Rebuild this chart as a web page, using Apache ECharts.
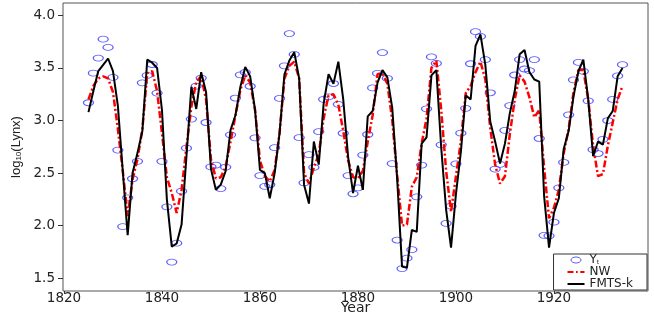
<!DOCTYPE html>
<html><head><meta charset="utf-8">
<script src="https://cdn.jsdelivr.net/npm/echarts@6/dist/echarts.min.js"></script>
<style>html,body{margin:0;padding:0;background:#fff}#c{width:654px;height:316px}</style>
</head><body><div id="c"></div>
<script>
const startYear = 1825, endYear = 1934;
const years = [];
for (let y = startYear; y <= endYear; y++) years.push(y);

const yt = [3.169,3.450,3.594,3.774,3.695,3.411,2.719,1.991,2.265,2.446,
2.612,3.359,3.429,3.533,3.261,2.612,2.179,1.653,1.833,2.328,
2.737,3.014,3.328,3.404,2.981,2.558,2.576,2.352,2.556,2.864,
3.214,3.435,3.458,3.326,2.835,2.476,2.373,2.389,2.742,3.210,
3.520,3.827,3.629,2.837,2.407,2.675,2.554,2.894,3.202,3.224,
3.352,3.154,2.879,2.476,2.303,2.360,2.671,2.867,3.310,3.449,
3.646,3.400,2.590,1.863,1.591,1.690,1.771,2.274,2.576,3.111,
3.605,3.543,2.769,2.021,2.185,2.588,2.880,3.116,3.540,3.845,
3.800,3.579,3.264,2.538,2.582,2.907,3.142,3.433,3.580,3.490,
3.475,3.579,2.829,1.908,1.903,2.033,2.360,2.601,3.054,3.386,
3.553,3.468,3.187,2.723,2.686,2.821,3.000,3.201,3.424,3.531];

const nw = [3.20,3.33,3.40,3.42,3.40,3.27,2.92,2.52,2.09,2.44,
2.63,2.92,3.45,3.47,3.28,2.88,2.46,2.31,2.12,2.34,
2.75,3.13,3.37,3.42,3.20,2.63,2.45,2.46,2.56,2.80,
3.05,3.29,3.43,3.36,3.10,2.62,2.47,2.42,2.53,2.88,
3.40,3.52,3.56,3.40,2.50,2.40,2.55,2.68,3.02,3.24,
3.25,3.15,2.90,2.62,2.46,2.45,2.52,2.80,3.05,3.44,
3.45,3.35,3.00,2.48,2.00,2.01,2.37,2.46,2.78,3.02,
3.50,3.57,3.10,2.52,2.13,2.47,2.80,3.26,3.33,3.46,
3.56,3.39,2.93,2.58,2.40,2.47,2.87,3.20,3.43,3.37,
3.22,3.03,3.10,2.55,2.07,2.17,2.34,2.69,2.92,3.27,
3.48,3.48,3.20,2.76,2.47,2.49,2.76,2.98,3.20,3.33];

const fmts = [3.08,3.28,3.47,3.53,3.59,3.47,3.14,2.52,1.91,2.50,
2.69,2.90,3.58,3.55,3.50,3.10,2.25,1.80,1.83,2.01,
2.66,3.32,3.11,3.46,3.27,2.54,2.34,2.39,2.52,2.91,
3.05,3.32,3.51,3.42,3.10,2.53,2.50,2.26,2.50,2.88,
3.44,3.57,3.65,3.40,2.39,2.21,2.80,2.58,3.16,3.44,
3.35,3.56,3.20,2.65,2.31,2.57,2.34,3.04,3.09,3.36,
3.48,3.41,3.12,2.45,1.61,1.60,1.96,1.94,2.78,2.84,
3.43,3.48,2.74,2.15,1.79,2.30,2.70,3.24,3.20,3.71,
3.82,3.53,2.99,2.80,2.59,2.78,3.07,3.28,3.63,3.67,
3.46,3.39,3.37,2.28,1.79,2.12,2.26,2.73,2.90,3.23,
3.47,3.58,3.20,2.66,2.80,2.77,3.02,3.09,3.42,3.50];

const xTicks = [1820,1840,1860,1880,1900,1920];
const yTicks = [1.5,2.0,2.5,3.0,3.5,4.0];

const ellipse = 'path://M0,6A10,6,0,1,1,20,6A10,6,0,1,1,0,6Z';
const solidIcon = 'path://M0,0H20V2.4H0Z';
const dashIcon = 'path://M0,0H7V2.4H0Z M10,0H12V2.4H10Z M15,0H20V2.4H15Z';
const font = 'DejaVu Sans';

const chart = echarts.init(document.getElementById('c'), null, {renderer:'canvas'});
chart.setOption({
  animation: false,
  backgroundColor: '#fff',
  grid: {left: 63, right: 6, top: 3, bottom: 25, outerBoundsMode: 'none', containLabel: false,
    show: true, borderColor: '#555', borderWidth: 1, backgroundColor: 'transparent'},
  xAxis: {
    type: 'value', min: 1819.8, max: 1939.2,
    splitLine: {show: false},
    axisLine: {show: false},
    axisTick: {show: true, customValues: xTicks, length: 3, lineStyle: {color: '#333'}},
    axisLabel: {customValues: xTicks, color: '#222', fontFamily: font, fontSize: 13.5, margin: 0,
      formatter: v => String(v)},
    name: 'Year', nameLocation: 'middle', nameGap: 10, nameMoveOverlap: false,
    nameTextStyle: {color: '#222', fontFamily: font, fontSize: 14}
  },
  yAxis: {
    type: 'value', min: 1.378, max: 4.118,
    splitLine: {show: false},
    axisLine: {show: false},
    axisTick: {show: true, customValues: yTicks, length: 5, lineStyle: {color: '#333'}},
    axisLabel: {customValues: yTicks, color: '#222', fontFamily: font, fontSize: 13.5, margin: 8,
      formatter: v => v.toFixed(1)},
    name: '{a|log}{b|10}{a|(Lynx)}', nameLocation: 'middle', nameGap: 40, nameRotate: 90, nameMoveOverlap: false,
    nameTextStyle: {color: '#222', rich: {
      a: {fontFamily: 'Liberation Sans', fontSize: 13, color: '#222'},
      b: {fontFamily: 'Liberation Sans', fontSize: 8, color: '#222', verticalAlign: 'bottom', padding: [5,0,0,0]}
    }}
  },
  legend: {
    orient: 'vertical', right: 7, bottom: 26,
    backgroundColor: '#fff', borderColor: '#333', borderWidth: 1, borderRadius: 0,
    padding: [0, 14, 0, 14], itemGap: 0, itemWidth: 17, itemHeight: 6, symbolKeepAspect: true,
    textStyle: {fontFamily: font, fontSize: 12, color: '#222', lineHeight: 10,
      rich: {y: {fontFamily: font, fontSize: 12, color: '#222', lineHeight: 10}, s: {fontFamily: font, fontSize: 6, color: '#222', verticalAlign: 'bottom', lineHeight: 10}}},
    formatter: name => name === 'Yt' ? '{y|Y}{s|t}' : name,
    data: [
      {name: 'Yt', icon: ellipse, itemStyle: {color: 'transparent', borderColor: '#3535ff', borderWidth: 1}},
      {name: 'NW', icon: dashIcon, itemStyle: {color: '#ff0000', borderWidth: 0}},
      {name: 'FMTS-k', icon: solidIcon, itemStyle: {color: '#000', borderWidth: 0}}
    ]
  },
  series: [
    {name: 'Yt', type: 'scatter', symbol: ellipse, symbolSize: [10, 6], clip: false,
      itemStyle: {color: 'transparent', borderColor: '#3535ff', borderWidth: 1},
      data: years.map((y, i) => [y, yt[i]]), z: 1},
    {name: 'NW', type: 'line', symbol: 'none', showSymbol: false,
      lineStyle: {color: '#ff0000', width: 2.5, type: [7, 2.5, 2, 2.5]},
      itemStyle: {color: '#ff0000'},
      data: years.map((y, i) => [y, nw[i]]), z: 2},
    {name: 'FMTS-k', type: 'line', symbol: 'none', showSymbol: false,
      lineStyle: {color: '#000', width: 2},
      itemStyle: {color: '#000'},
      data: years.map((y, i) => [y, fmts[i]]), z: 3}
  ]
});
</script>
</body></html>
